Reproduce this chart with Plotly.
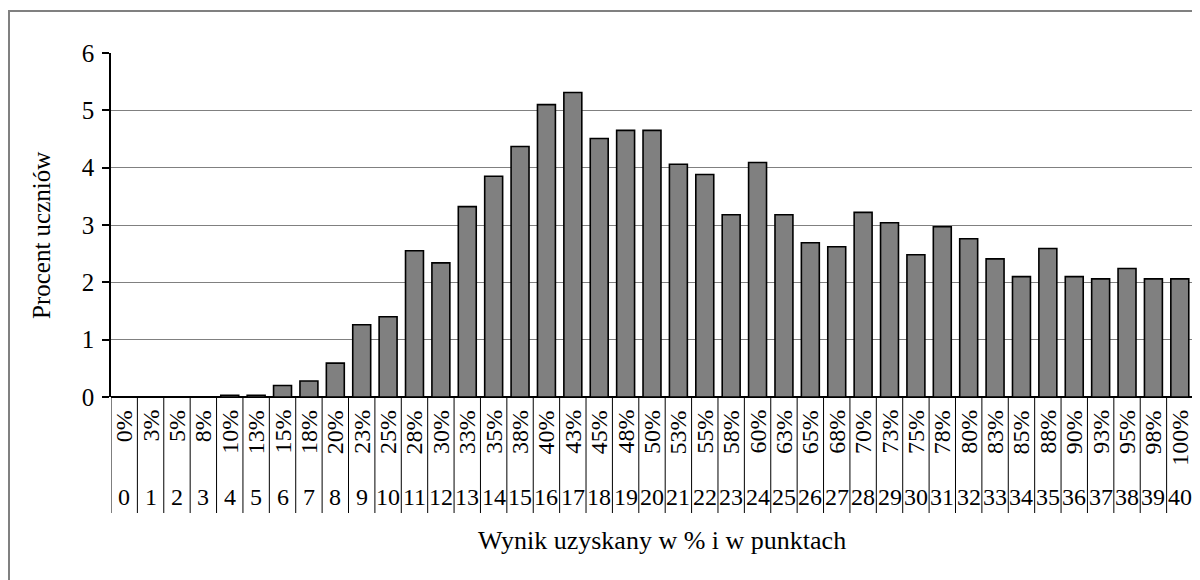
import plotly.graph_objects as go

points = list(range(41))
pct_labels = ["0%", "3%", "5%", "8%", "10%", "13%", "15%", "18%", "20%", "23%",
              "25%", "28%", "30%", "33%", "35%", "38%", "40%", "43%", "45%", "48%",
              "50%", "53%", "55%", "58%", "60%", "63%", "65%", "68%", "70%", "73%",
              "75%", "78%", "80%", "83%", "85%", "88%", "90%", "93%", "95%", "98%", "100%"]
values = [0, 0, 0, 0, 0.03, 0.03, 0.20, 0.28, 0.59, 1.26,
          1.40, 2.55, 2.34, 3.32, 3.85, 4.37, 5.10, 5.31, 4.51, 4.65,
          4.65, 4.06, 3.88, 3.18, 4.09, 3.18, 2.69, 2.62, 3.22, 3.04,
          2.48, 2.97, 2.76, 2.41, 2.10, 2.59, 2.10, 2.06, 2.24, 2.06, 2.06]
y_ticks = [0, 1, 2, 3, 4, 5, 6]
x_title = "Wynik uzyskany w % i w punktach"
y_title = "Procent uczniów"

FONT = "Liberation Serif"
OFF = 8  # default page body margin
W, H = 1200 - OFF, 580 - OFF
L, R, T, B = 111 - OFF, 1200 - 1193, 53 - OFF, 580 - 397
pw, ph = W - L - R, H - T - B

def ypaper(py):
    """screen pixel y -> paper y"""
    return (H - B - (py - OFF)) / ph

def xpaper(px):
    """screen pixel x -> paper x"""
    return ((px - OFF) - L) / pw

fig = go.Figure(go.Bar(
    x=points, y=values,
    marker=dict(color="#808080", line=dict(color="black", width=1.6)),
    width=0.68,
    hoverinfo="x+y",
))

shapes = []
# category dividers below the axis
for i in range(len(points) + 1):
    shapes.append(dict(type="line", xref="x", yref="paper",
                       x0=i - 0.5, x1=i - 0.5, y0=0, y1=ypaper(513),
                       line=dict(color="black", width=1)))
# plot area right border
shapes.append(dict(type="line", xref="paper", yref="paper", x0=1, x1=1, y0=0, y1=1,
                   line=dict(color="#808080", width=1.5)))
# outer chart frame
shapes.append(dict(type="rect", xref="paper", yref="paper",
                   x0=xpaper(9), x1=xpaper(1215), y0=ypaper(600), y1=ypaper(11),
                   line=dict(color="#808080", width=2)))

annotations = []
for i, lab in zip(points, pct_labels):
    annotations.append(dict(x=i, y=ypaper(408), xref="x", yref="paper",
                            text=lab, textangle=-90, showarrow=False,
                            xanchor="center", yanchor="top",
                            font=dict(family=FONT, size=24, color="black")))
    annotations.append(dict(x=i, y=ypaper(497), xref="x", yref="paper",
                            text=str(i), showarrow=False,
                            xanchor="center", yanchor="middle",
                            font=dict(family=FONT, size=24, color="black")))
annotations.append(dict(x=xpaper(662), y=ypaper(540), xref="paper", yref="paper",
                        text=x_title, showarrow=False, xanchor="center", yanchor="middle",
                        font=dict(family=FONT, size=26, color="black")))
annotations.append(dict(x=xpaper(41), y=ypaper(236), xref="paper", yref="paper",
                        text=y_title, showarrow=False, textangle=-90,
                        xanchor="center", yanchor="middle",
                        font=dict(family=FONT, size=25, color="black")))

fig.update_layout(
    width=W, height=H,
    margin=dict(l=L, r=R, t=T, b=B, pad=0),
    paper_bgcolor="white", plot_bgcolor="white",
    showlegend=False,
    font=dict(family=FONT, size=21, color="black"),
    shapes=shapes, annotations=annotations,
    xaxis=dict(range=[-0.5, len(points) - 0.5], showticklabels=False, ticks="",
               showgrid=False, zeroline=False, showline=False, fixedrange=True),
    yaxis=dict(range=[0, 6], tickvals=y_ticks, ticks="outside", ticklen=7,
               tickcolor="black", tickwidth=1.5, showline=True, linecolor="black",
               linewidth=1.5, showgrid=True, gridcolor="#808080", gridwidth=1,
               zeroline=True, zerolinecolor="black", zerolinewidth=1.5,
               ticklabelstandoff=3, tickfont=dict(family=FONT, size=25, color="black"),
               fixedrange=True),
)

fig.write_html("out.html")
